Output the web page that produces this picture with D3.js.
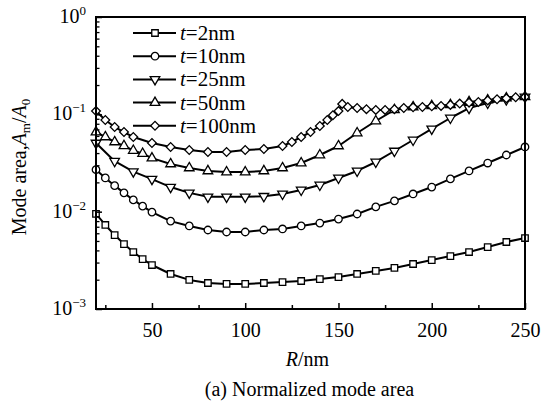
<!DOCTYPE html>
<html>
<head>
<meta charset="utf-8">
<script src="https://cdn.jsdelivr.net/npm/d3@7"></script>
<style>
  body { margin: 0; background: #fff; }
  svg text { font-family: "Liberation Serif", "Times New Roman", serif; }
</style>
</head>
<body>
<div id="chart"></div>
<script>
// radius R (nm) sampled for each series
const r2 = [20, 25, 30, 35, 40, 45, 50, 60, 70, 80, 90, 100, 110, 120, 130, 140, 150, 160, 170, 180, 190, 200, 210, 220, 230, 240, 250];
const r10 = r2;
const r25 = [20, 30, 40, 50, 60, 70, 80, 90, 100, 110, 120, 130, 140, 150, 160, 170, 180, 190, 200, 210, 220, 230, 240, 250];
const r50 = r2;
const r100 = [20, 25, 30, 35, 40, 50, 60, 70, 80, 90, 100, 110, 120, 125, 130, 135, 140, 144, 147, 150, 152, 155, 160, 165, 170, 175, 180, 185, 190, 195, 200, 205, 210, 215, 220, 225, 230, 235, 240, 245, 250];

// normalized mode area Am/A0
const a2 = [0.0095, 0.0073, 0.00575, 0.00465, 0.00385, 0.00326, 0.00283, 0.00229, 0.00199, 0.00185, 0.00181, 0.00181, 0.00185, 0.00189, 0.00194, 0.00203, 0.00213, 0.00229, 0.00246, 0.00264, 0.0029, 0.00318, 0.0035, 0.00385, 0.00433, 0.00488, 0.00536];
const a10 = [0.027, 0.0222, 0.0185, 0.0156, 0.0132, 0.0114, 0.0099, 0.008, 0.00713, 0.00648, 0.00618, 0.00618, 0.00648, 0.00664, 0.00713, 0.00764, 0.0084, 0.00946, 0.0112, 0.0129, 0.0152, 0.0179, 0.0217, 0.0262, 0.0316, 0.0382, 0.0462];
const a25 = [0.0507, 0.033, 0.0258, 0.0216, 0.0179, 0.0156, 0.0142, 0.0142, 0.0142, 0.0144, 0.0152, 0.0167, 0.0188, 0.0222, 0.0262, 0.0324, 0.042, 0.0545, 0.071, 0.0917, 0.116, 0.131, 0.142, 0.151];
const a50 = [0.0658, 0.0585, 0.052, 0.0475, 0.0425, 0.0395, 0.0355, 0.0309, 0.0281, 0.0262, 0.0255, 0.0255, 0.0262, 0.0281, 0.0316, 0.0382, 0.0473, 0.0643, 0.0854, 0.111, 0.119, 0.122, 0.125, 0.134, 0.14, 0.147, 0.151];
const a100 = [0.108, 0.0875, 0.0741, 0.0658, 0.0585, 0.0507, 0.0462, 0.043, 0.041, 0.041, 0.043, 0.044, 0.0473, 0.052, 0.0585, 0.0658, 0.0759, 0.0875, 0.098, 0.108, 0.128, 0.119, 0.116, 0.113, 0.111, 0.111, 0.113, 0.116, 0.118, 0.119, 0.121, 0.122, 0.125, 0.129, 0.132, 0.134, 0.139, 0.143, 0.146, 0.15, 0.151];

const seriesNames = ["2nm", "10nm", "25nm", "50nm", "100nm"];
const markers = ["square", "circle", "down", "up", "diamond"];
const xTicks = [50, 100, 150, 200, 250];
const xMinorTicks = [25, 75, 125, 175, 225];
const yExponents = [0, -1, -2, -3];

const series = [
  { name: seriesNames[0], marker: markers[0], r: r2, a: a2 },
  { name: seriesNames[1], marker: markers[1], r: r10, a: a10 },
  { name: seriesNames[2], marker: markers[2], r: r25, a: a25 },
  { name: seriesNames[3], marker: markers[3], r: r50, a: a50 },
  { name: seriesNames[4], marker: markers[4], r: r100, a: a100 }
];

const FONT = '"Liberation Serif", "Times New Roman", serif';
const FS = 20;
const W = 554, H = 403;
const margin = { top: 17, right: 29, bottom: 94, left: 96 };
const width = W - margin.left - margin.right;
const height = H - margin.top - margin.bottom;

const svg = d3.select("#chart").append("svg")
  .attr("width", W).attr("height", H);
svg.append("rect").attr("width", W).attr("height", H).attr("fill", "#fff");

const g = svg.append("g").attr("transform", `translate(${margin.left},${margin.top})`);

const x = d3.scaleLinear().domain([20, 250]).range([0, width]);
const y = d3.scaleLog().domain([1e-3, 1]).range([height, 0]);

// marker shapes
function markerPath(type) {
  if (type === "square") return d3.symbol(d3.symbolSquare, 42)();
  if (type === "circle") return d3.symbol(d3.symbolCircle, 44)();
  if (type === "down" || type === "up") return d3.symbol(d3.symbolTriangle, 40)();
  return d3.symbol(d3.symbolSquare, 38)();
}
function markerRot(type) {
  if (type === "down") return 180;
  if (type === "diamond") return 45;
  return 0;
}

const line = d3.line()
  .x(d => x(d[0]))
  .y(d => y(d[1]));

// curves
series.forEach(s => {
  const pts = s.r.map((r, i) => [r, s.a[i]]);
  g.append("path")
    .datum(pts)
    .attr("fill", "none")
    .attr("stroke", "#000")
    .attr("stroke-width", 2)
    .attr("stroke-linejoin", "round")
    .attr("d", line);
  g.append("g").selectAll("path")
    .data(pts)
    .join("path")
    .attr("d", markerPath(s.marker))
    .attr("transform", d => `translate(${x(d[0])},${y(d[1])}) rotate(${markerRot(s.marker)})`)
    .attr("fill", "#fff")
    .attr("stroke", "#000")
    .attr("stroke-width", 1.3);
});

// frame
g.append("rect")
  .attr("width", width).attr("height", height)
  .attr("fill", "none").attr("stroke", "#000").attr("stroke-width", 2);

// x axis ticks (inward)
const xAxis = d3.axisBottom(x).tickValues(xTicks).tickSize(-6).tickPadding(14).tickFormat(d3.format("d"));
const gx = g.append("g").attr("transform", `translate(0,${height})`).call(xAxis)
  .attr("font-family", FONT).attr("font-size", FS);
gx.select(".domain").remove();
gx.selectAll("line").attr("stroke-width", 1.5);
gx.selectAll("text").attr("fill", "#000");
g.append("g").attr("transform", `translate(0,${height})`)
  .call(d3.axisBottom(x).tickValues(xMinorTicks).tickSize(-4).tickFormat(""))
  .call(a => a.select(".domain").remove())
  .selectAll("line").attr("stroke-width", 1.5);

// y axis: major + minor ticks inward
const minorY = [];
[-3, -2, -1].forEach(e => { for (let k = 2; k <= 9; k++) minorY.push(k * Math.pow(10, e)); });
g.append("g")
  .call(d3.axisLeft(y).tickValues(yExponents.map(e => Math.pow(10, e))).tickSize(-6).tickFormat(""))
  .call(a => a.select(".domain").remove())
  .selectAll("line").attr("stroke-width", 1.5);
g.append("g")
  .call(d3.axisLeft(y).tickValues(minorY).tickSize(-3.5).tickFormat(""))
  .call(a => a.select(".domain").remove())
  .selectAll("line").attr("stroke-width", 1.3);

// y tick labels as 10^n
const ylab = g.append("g").selectAll("text")
  .data(yExponents)
  .join("text")
  .attr("x", -10)
  .attr("y", d => y(Math.pow(10, d)) + 6)
  .attr("text-anchor", "end")
  .attr("font-family", FONT)
  .attr("font-size", FS)
  .attr("fill", "#000");
ylab.append("tspan").text("10");
ylab.append("tspan")
  .attr("font-size", 13)
  .attr("dy", -8)
  .text(d => d === 0 ? "0" : "\u2212" + Math.abs(d));

// axis titles
const yt = svg.append("text")
  .attr("transform", `translate(26,${margin.top + height / 2 + 4}) rotate(-90)`)
  .attr("text-anchor", "middle")
  .attr("font-family", FONT)
  .attr("font-size", FS)
  .attr("fill", "#000");
yt.append("tspan").text("Mode area,");
yt.append("tspan").attr("font-style", "italic").text("A");
yt.append("tspan").attr("font-size", 13).attr("dy", 4).text("m");
yt.append("tspan").attr("dy", -4).text("/");
yt.append("tspan").attr("font-style", "italic").text("A");
yt.append("tspan").attr("font-size", 13).attr("dy", 4).text("0");

const xt = svg.append("text")
  .attr("x", margin.left + width / 2 - 3)
  .attr("y", 366)
  .attr("text-anchor", "middle")
  .attr("font-family", FONT)
  .attr("font-size", FS)
  .attr("fill", "#000");
xt.append("tspan").attr("font-style", "italic").text("R");
xt.append("tspan").text("/nm");

svg.append("text")
  .attr("x", margin.left + width / 2 - 1)
  .attr("y", 396)
  .attr("text-anchor", "middle")
  .attr("font-family", FONT)
  .attr("font-size", FS)
  .attr("fill", "#000")
  .text("(a) Normalized mode area");

// legend
const leg = g.append("g").attr("transform", "translate(37,16)");
const rows = leg.selectAll("g").data(series).join("g")
  .attr("transform", (d, i) => `translate(0,${i * 23.2})`);
rows.append("line").attr("x1", 0).attr("x2", 43).attr("y1", 0).attr("y2", 0)
  .attr("stroke", "#000").attr("stroke-width", 2);
rows.append("path")
  .attr("d", d => markerPath(d.marker))
  .attr("transform", d => `translate(22,0) rotate(${markerRot(d.marker)})`)
  .attr("fill", "#fff").attr("stroke", "#000").attr("stroke-width", 1.3);
const lt = rows.append("text").attr("x", 47).attr("y", 7)
  .attr("font-family", FONT).attr("font-size", 21).attr("fill", "#000");
lt.append("tspan").attr("font-style", "italic").text("t");
lt.append("tspan").text(d => "=" + d.name);
</script>
</body>
</html>
